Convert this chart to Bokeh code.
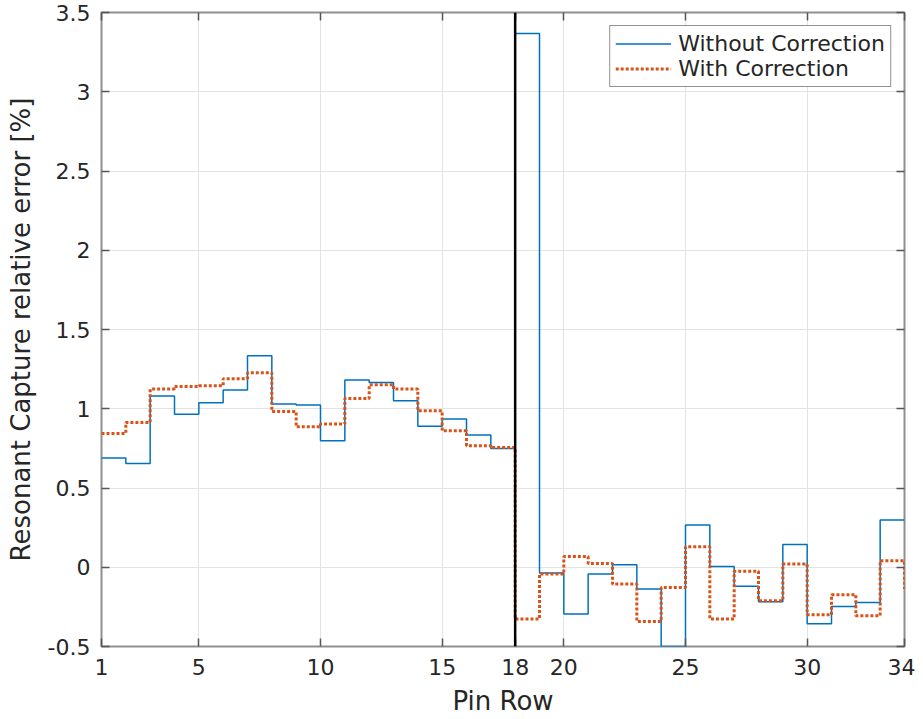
from bokeh.plotting import figure
from bokeh.models import (FixedTicker, Span, Legend, LegendItem, LinearAxis, Range1d,
                          CustomJSTickFormatter)
from bokeh.embed import file_html
from bokeh.resources import INLINE

pin_rows = list(range(1, 35))
without_correction = [0.69, 0.655, 1.08, 0.966, 1.038, 1.118, 1.334, 1.03, 1.023, 0.798,
                      1.181, 1.166, 1.05, 0.89, 0.935, 0.834, 0.75, 3.368, -0.037, -0.295,
                      -0.043, 0.016, -0.138, -0.5, 0.266, 0.005, -0.12, -0.218, 0.144, -0.356,
                      -0.247, -0.222, 0.298, 0.298]
with_correction = [0.844, 0.914, 1.124, 1.14, 1.145, 1.19, 1.227, 0.983, 0.886, 0.903,
                   1.065, 1.151, 1.124, 0.987, 0.861, 0.767, 0.756, -0.327, -0.043, 0.068,
                   0.024, -0.106, -0.342, -0.127, 0.129, -0.327, -0.026, -0.211, 0.02, -0.3,
                   -0.173, -0.306, 0.041, -0.138]
separator_row = 18
x_ticks = [1, 5, 10, 15, 18, 20, 25, 30, 34]
x_tick_labels = ["1", "5", "10", "15", "18", "20", "25", "30", "34"]
y_ticks = [-0.5, 0, 0.5, 1, 1.5, 2, 2.5, 3, 3.5]
y_tick_labels = ["-0.5", "0", "0.5", "1", "1.5", "2", "2.5", "3", "3.5"]
series_names = ["Without Correction", "With Correction"]

FONT = "DejaVu Sans"
TXT = "#262626"

p = figure(width=915, height=719, output_backend="svg", toolbar_location=None,
           x_range=Range1d(1, 34), y_range=Range1d(-0.5, 3.5),
           min_border_left=101, min_border_right=11, min_border_top=12, min_border_bottom=73)
p.background_fill_color = "white"
p.border_fill_color = "white"
p.outline_line_color = "#8f8f8f"
p.outline_line_width = 2

p.xaxis.ticker = FixedTicker(ticks=x_ticks)
p.yaxis.ticker = FixedTicker(ticks=y_ticks)
p.xaxis.major_label_overrides = {t: l for t, l in zip(x_ticks, x_tick_labels)}
p.yaxis.major_label_overrides = {t: l for t, l in zip(y_ticks, y_tick_labels)}

for ax in [p.xaxis[0], p.yaxis[0]]:
    ax.axis_line_color = None
    ax.major_tick_in = 8
    ax.major_tick_out = 0
    ax.major_tick_line_color = "#555555"
    ax.major_tick_line_width = 1.5
    ax.minor_tick_line_color = None
    ax.major_label_text_font = FONT
    ax.major_label_text_font_size = "22px"
    ax.major_label_text_color = TXT
    ax.axis_label_text_font = FONT
    ax.axis_label_text_font_size = "26px"
    ax.axis_label_text_font_style = "normal"
    ax.axis_label_text_color = TXT

p.xaxis.axis_label = "Pin Row"
p.yaxis.axis_label = "Resonant Capture relative error [%]"
p.xaxis.major_label_standoff = 12
p.xaxis.axis_label_standoff = 8
p.yaxis.major_label_standoff = 11
p.yaxis.axis_label_standoff = 9

for loc, tk in [("right", y_ticks), ("above", x_ticks)]:
    ax = LinearAxis(ticker=FixedTicker(ticks=tk),
                    formatter=CustomJSTickFormatter(code="return '';"))
    ax.axis_line_color = None
    ax.major_tick_in = 8
    ax.major_tick_out = 0
    ax.major_tick_line_color = "#555555"
    ax.major_tick_line_width = 1.5
    ax.minor_tick_line_color = None
    ax.major_label_standoff = 0
    p.add_layout(ax, loc)

p.xgrid.grid_line_color = "#e3e3e3"
p.ygrid.grid_line_color = "#e3e3e3"
p.xgrid.grid_line_width = 1
p.ygrid.grid_line_width = 1

sep = Span(location=separator_row, dimension="height", line_color="#000000", line_width=2.5)
p.add_layout(sep)

r1 = p.step(pin_rows, without_correction, mode="after", line_color="#0072BD", line_width=1.5)
r2 = p.step(pin_rows, with_correction, mode="after", line_color="#D95319", line_width=3,
            line_dash="3 2")

legend = Legend(items=[LegendItem(label=series_names[0], renderers=[r1]),
                       LegendItem(label=series_names[1], renderers=[r2])],
                location="top_right")
legend.label_text_font = FONT
legend.label_text_font_size = "22px"
legend.label_text_color = TXT
legend.border_line_color = TXT
legend.border_line_width = 1
legend.background_fill_color = "white"
legend.background_fill_alpha = 1
legend.padding = 5
legend.spacing = 0
legend.margin = 13
legend.glyph_width = 56
legend.label_standoff = 7
legend.label_height = 25
legend.glyph_height = 25
p.add_layout(legend)

open("out.html", "w").write(file_html(p, INLINE))
